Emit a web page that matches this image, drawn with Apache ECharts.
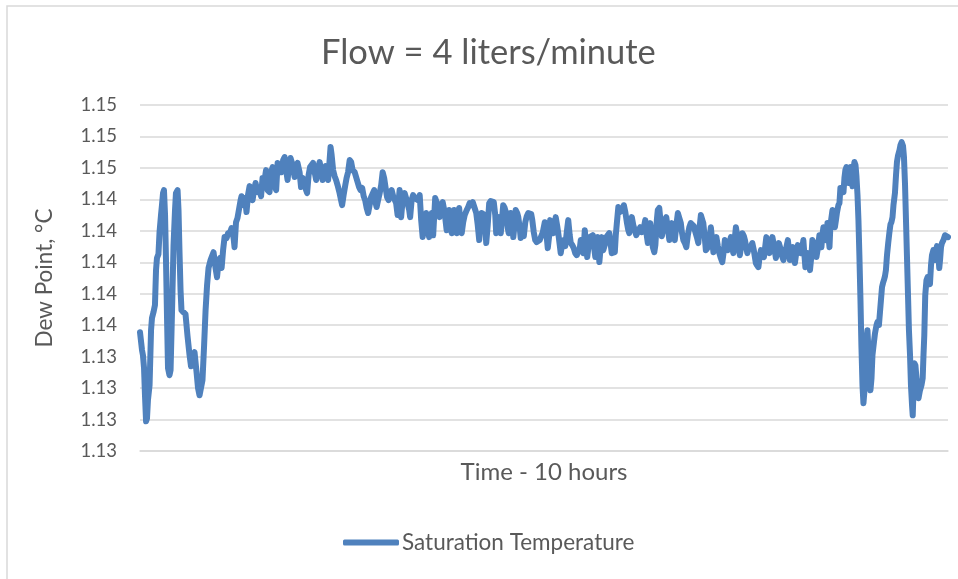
<!DOCTYPE html>
<html>
<head>
<meta charset="utf-8">
<title>Flow = 4 liters/minute</title>
<script src="https://cdn.jsdelivr.net/npm/echarts@6/dist/echarts.min.js"></script>
<style>
  html, body { margin: 0; padding: 0; background: #ffffff; }
  #chart { width: 958px; height: 579px; }
</style>
</head>
<body>
<div id="chart"></div>
<script>
// Elapsed time of each reading, minutes (10 hour run)
const timeMinutes = [
  0, 0.7, 1.5, 2.2, 3.0, 3.7, 4.5, 5.2, 5.9, 7.1, 8.2, 8.9, 10.0, 11.1, 11.9, 12.6, 13.7, 14.5, 15.6, 16.3,
  17.1, 17.8, 18.6, 19.3, 20.1, 20.8, 21.9, 22.7, 23.8, 24.9, 26.0, 26.7, 27.9, 28.6, 29.3, 30.1, 30.8, 32.3, 33.8, 35.3,
  36.8, 37.9, 39.0, 40.5, 42.0, 43.1, 44.2, 45.3, 46.4, 47.6, 48.7, 49.8, 50.9, 52.4, 53.5, 54.6, 56.1, 57.2, 58.3, 59.4,
  60.6, 61.7, 62.8, 64.3, 65.4, 66.9, 68.0, 69.5, 70.2, 71.3, 72.4, 73.6, 74.7, 75.4, 76.9, 78.0, 79.1, 80.2, 81.4, 82.5,
  83.6, 84.7, 85.8, 87.3, 88.8, 89.9, 91.0, 92.5, 93.6, 94.7, 96.2,
  97.3, 98.5, 99.9, 101.1, 102.2, 103.7, 105.1, 106.3, 107.4, 108.5, 109.6, 110.7, 111.8, 113.3, 114.8, 115.9, 117.0, 118.5, 119.6, 120.7,
  122.2, 123.3, 124.1, 125.2, 126.3, 127.4, 128.5, 129.7, 130.8, 131.9, 133.4, 134.5, 135.6, 136.7, 137.8, 138.9, 139.7, 140.8, 141.5, 142.3,
  143.4, 144.5, 145.6, 146.7, 148.2, 149.3, 150.1, 151.2, 152.3, 153.4, 154.5, 155.7, 156.8, 157.9, 159.4, 160.5, 161.6, 162.7, 163.8, 165.0,
  166.1, 167.2, 168.3, 169.4, 170.5, 171.6, 172.8, 173.9, 175.0, 175.7, 176.8, 178.0, 179.1, 180.2, 181.3, 182.4, 183.5, 184.6, 185.8, 186.9,
  188.0, 189.1, 190.2, 191.3, 192.1, 192.8,
  193.9, 195.0, 196.5, 197.6, 198.8, 199.9, 200.6, 201.7, 202.8, 204.0, 205.1, 206.2, 207.7, 208.8, 209.9, 211.0, 212.5, 213.6, 214.7, 215.8,
  216.6, 217.7, 219.2, 220.3, 221.4, 222.5, 223.7, 224.8, 225.9, 226.6, 227.7, 228.9, 229.6, 230.7, 231.5, 232.6, 233.3, 234.4, 235.2, 236.3,
  237.0, 238.1, 238.9, 240.0, 241.1, 242.6, 243.7, 244.8, 245.9, 247.1, 248.5, 249.7, 250.8, 251.9, 252.6, 253.7, 254.9, 256.0, 257.1, 258.2,
  259.3, 260.4, 261.5, 262.7, 263.8, 264.5, 265.6, 266.7, 267.9, 268.6, 269.7, 270.8, 271.9, 273.1, 273.8, 274.6, 275.3, 276.4, 277.2, 278.3,
  279.0, 280.1, 280.9, 282.0, 282.7, 283.8, 285.0, 286.1, 287.2, 288.3, 289.4,
  290.5, 291.3, 292.4, 293.5, 294.6, 295.7, 296.8, 298.0, 299.1, 300.6, 301.7, 302.8, 303.9, 304.6, 305.8, 306.9, 308.0, 308.7, 309.8, 310.6,
  311.7, 312.4, 313.6, 314.7, 315.8, 316.9, 318.0, 319.1, 319.9, 321.0, 322.1, 323.2, 324.3, 325.4, 326.6, 327.3, 328.4, 329.2, 330.3, 331.4,
  332.1, 333.2, 334.0, 335.1, 336.2, 337.3, 338.1, 339.2, 339.9, 341.1, 342.2, 342.9, 344.0, 345.1, 346.3, 347.4, 348.5, 349.6, 350.3, 351.5,
  352.6, 353.3, 354.1, 355.2, 356.3, 357.4, 358.5, 359.3, 360.4, 361.5, 362.6, 363.3, 364.5, 365.2, 366.3, 367.4, 368.5, 369.3, 370.4, 371.5,
  372.6, 373.4, 374.5, 375.2, 376.3, 377.1, 378.2, 378.9, 380.1, 380.8, 381.9, 382.7, 383.8, 384.5, 385.6,
  386.8, 387.5, 388.6, 389.7, 390.8, 391.9, 393.1, 393.8, 394.9, 396.0, 397.1, 398.3, 399.4, 400.5, 401.6, 402.4, 403.5, 404.6, 405.7, 406.8,
  407.9, 409.0, 410.2, 411.3, 412.0, 413.5, 414.6, 415.7, 416.5, 417.6, 418.3, 419.4, 420.2, 421.3, 422.0, 423.2, 423.9, 425.0, 425.8, 426.9,
  428.0, 429.1, 430.2, 431.3, 432.4, 433.6, 434.3, 435.4, 436.5, 437.6, 438.8, 439.5, 440.6, 441.7, 442.5, 443.6, 444.3, 445.4, 446.6, 447.3,
  448.4, 449.2, 450.3, 451.0, 452.1, 452.9, 454.0, 454.7, 455.8, 457.3, 458.1, 459.2, 460.3, 461.1, 462.2, 463.3, 464.4, 465.1, 466.3, 467.4,
  468.5, 469.6, 470.7, 472.2, 473.3, 474.4, 475.5,
  476.6, 477.8, 478.9, 480.0, 481.1, 481.9, 482.6, 483.7, 484.8, 485.6, 486.3, 487.4, 488.5, 489.7, 490.8, 491.9, 492.6, 493.4, 494.1, 494.9,
  496.0, 496.7, 497.5, 498.6, 499.3, 500.4, 501.2, 502.3, 503.4, 504.5, 505.3, 506.0, 506.7, 507.5, 508.6, 509.4, 510.5, 511.2, 512.0, 512.7,
  513.4, 514.2, 515.3, 516.0, 516.8, 517.5, 518.6, 519.4, 520.1, 521.2, 522.4, 523.1, 523.8, 524.6, 525.3, 526.1, 526.8, 527.6, 528.3, 529.0,
  529.8, 530.5, 531.3, 532.0, 532.8, 533.5, 534.2, 535.0, 535.7, 536.5, 537.2, 538.0, 538.7, 539.4, 540.2, 540.9, 541.7, 542.4, 543.2, 543.9,
  545.0, 545.8, 546.9, 547.6, 548.7, 549.5, 550.2, 551.0, 551.7, 552.4, 553.2, 553.9, 554.7, 555.6, 556.5, 557.3, 558.0, 558.8, 559.5, 560.6,
  561.4, 562.1, 562.8, 564.0, 564.7, 565.6, 566.6, 567.3, 568.1, 568.8, 569.5, 570.3, 571.0, 571.8, 572.5, 573.3, 573.8, 574.4, 575.0, 575.8,
  576.6, 577.3, 578.1, 579.2, 580.3, 581.2, 581.8, 582.4, 583.1, 584.0, 584.8, 585.5, 586.6, 587.4, 588.1, 589.1, 589.8, 590.3, 591.1, 591.8,
  592.9, 593.5, 594.1, 594.8, 595.5, 596.6, 597.8, 598.9, 600.0
];

// Saturation temperature (dew point) at each reading, °C
const dewPoint = [
  1.13555, 1.13549, 1.13441, 1.13409, 1.13327, 1.13154, 1.12989, 1.13008, 1.13123, 1.13218, 1.13568, 1.13645, 1.13682, 1.13727, 1.13950, 1.14027, 1.14052, 1.14191, 1.14300, 1.14363,
  1.14440, 1.14459, 1.14300, 1.14014, 1.13632, 1.13327, 1.13282, 1.13314, 1.13695, 1.14109, 1.14332, 1.14440, 1.14459, 1.14332, 1.14077, 1.13823, 1.13695, 1.13682, 1.13670, 1.13529,
  1.13409, 1.13339, 1.13409, 1.13428, 1.13301, 1.13199, 1.13154, 1.13148, 1.13250, 1.13472, 1.13695, 1.13854, 1.13963, 1.14014, 1.14039, 1.14064, 1.13963, 1.13905, 1.14001, 1.14027,
  1.13963, 1.14077, 1.14160, 1.14154, 1.14185, 1.14191, 1.14217, 1.14154, 1.14096, 1.14255, 1.14281, 1.14293, 1.14395, 1.14420, 1.14363, 1.14408, 1.14319, 1.14427, 1.14484, 1.14427,
  1.14395, 1.14459, 1.14504, 1.14446, 1.14472, 1.14420, 1.14536, 1.14523, 1.14586, 1.14459, 1.14446,
  1.14573, 1.14605, 1.14491, 1.14459, 1.14631, 1.14599, 1.14573, 1.14650, 1.14669, 1.14586, 1.14523, 1.14618, 1.14663, 1.14618, 1.14542, 1.14618, 1.14631, 1.14573, 1.14478, 1.14536,
  1.14523, 1.14459, 1.14440, 1.14554, 1.14605, 1.14618, 1.14631, 1.14573, 1.14523, 1.14586, 1.14637, 1.14586, 1.14523, 1.14586, 1.14611, 1.14554, 1.14523, 1.14650, 1.14733, 1.14682,
  1.14586, 1.14548, 1.14523, 1.14491, 1.14440, 1.14395, 1.14363, 1.14427, 1.14484, 1.14536, 1.14573, 1.14650, 1.14637, 1.14586, 1.14573, 1.14561, 1.14510, 1.14478, 1.14459, 1.14472,
  1.14420, 1.14395, 1.14345, 1.14313, 1.14363, 1.14414, 1.14408, 1.14459, 1.14376, 1.14351, 1.14395, 1.14440, 1.14491, 1.14573, 1.14536, 1.14472, 1.14414, 1.14395, 1.14446, 1.14459,
  1.14420, 1.14414, 1.14376, 1.14300, 1.14395, 1.14459,
  1.14287, 1.14395, 1.14440, 1.14408, 1.14414, 1.14332, 1.14287, 1.14395, 1.14427, 1.14408, 1.14414, 1.14395, 1.14427, 1.14268, 1.14160, 1.14217, 1.14313, 1.14236, 1.14160, 1.14268,
  1.14313, 1.14172, 1.14408, 1.14382, 1.14351, 1.14287, 1.14363, 1.14382, 1.14332, 1.14287, 1.14204, 1.14255, 1.14332, 1.14236, 1.14185, 1.14300, 1.14332, 1.14236, 1.14185, 1.14300,
  1.14345, 1.14236, 1.14185, 1.14255, 1.14300, 1.14332, 1.14351, 1.14376, 1.14363, 1.14382, 1.14345, 1.14313, 1.14236, 1.14141, 1.14217, 1.14313, 1.14319, 1.14300, 1.14122, 1.14236,
  1.14376, 1.14389, 1.14395, 1.14382, 1.14300, 1.14185, 1.14217, 1.14287, 1.14185, 1.14255, 1.14363, 1.14345, 1.14313, 1.14217, 1.14185, 1.14281, 1.14313, 1.14236, 1.14160, 1.14255,
  1.14332, 1.14313, 1.14287, 1.14217, 1.14154, 1.14204, 1.14166, 1.14255, 1.14293, 1.14313, 1.14319,
  1.14306, 1.14268, 1.14191, 1.14141, 1.14128, 1.14122, 1.14141, 1.14141, 1.14191, 1.14255, 1.14191, 1.14090, 1.14172, 1.14268, 1.14217, 1.14185, 1.14236, 1.14287, 1.14230, 1.14185,
  1.14109, 1.14058, 1.14122, 1.14141, 1.14103, 1.14191, 1.14268, 1.14172, 1.14122, 1.14109, 1.14090, 1.14058, 1.14045, 1.14033, 1.14090, 1.14141, 1.14077, 1.14058, 1.14204, 1.14090,
  1.14033, 1.14109, 1.14160, 1.14166, 1.14172, 1.14090, 1.14033, 1.14141, 1.14160, 1.14001, 1.14109, 1.14160, 1.14077, 1.14109, 1.14160, 1.14172, 1.14185, 1.14109, 1.14058, 1.14064,
  1.14064, 1.14172, 1.14249, 1.14351, 1.14319, 1.14313, 1.14332, 1.14363, 1.14319, 1.14255, 1.14204, 1.14185, 1.14255, 1.14287, 1.14236, 1.14204, 1.14172, 1.14160, 1.14204, 1.14223,
  1.14191, 1.14185, 1.14236, 1.14268, 1.14172, 1.14122, 1.14204, 1.14249, 1.14172, 1.14096, 1.14064, 1.14109, 1.14268, 1.14332, 1.14345,
  1.14236, 1.14166, 1.14217, 1.14268, 1.14287, 1.14217, 1.14141, 1.14191, 1.14249, 1.14191, 1.14141, 1.14236, 1.14313, 1.14281, 1.14249, 1.14191, 1.14141, 1.14122, 1.14096, 1.14172,
  1.14223, 1.14249, 1.14255, 1.14230, 1.14204, 1.14160, 1.14122, 1.14236, 1.14300, 1.14268, 1.14249, 1.14154, 1.14077, 1.14090, 1.14096, 1.14172, 1.14223, 1.14128, 1.14064, 1.14122,
  1.14160, 1.14103, 1.14058, 1.14027, 1.14001, 1.14077, 1.14141, 1.14109, 1.14077, 1.14122, 1.14160, 1.14109, 1.14058, 1.14154, 1.14223, 1.14160, 1.14122, 1.14045, 1.14109, 1.14185,
  1.14166, 1.14141, 1.14090, 1.14058, 1.14090, 1.14096, 1.14109, 1.14122, 1.14077, 1.13995, 1.13982, 1.13969, 1.14045, 1.14077, 1.14058, 1.14033, 1.14109, 1.14160, 1.14109, 1.14058,
  1.14109, 1.14160, 1.14109, 1.14027, 1.14077, 1.14122, 1.14090,
  1.14045, 1.14014, 1.14064, 1.14096, 1.14141, 1.14077, 1.14014, 1.14064, 1.14096, 1.14045, 1.13995, 1.14064, 1.14109, 1.14090, 1.14058, 1.14096, 1.14141, 1.14045, 1.13969, 1.14014,
  1.14058, 1.14001, 1.13950, 1.14045, 1.14141, 1.14122, 1.14096, 1.14033, 1.14090, 1.14172, 1.14141, 1.14096, 1.14172, 1.14223, 1.14172, 1.14141, 1.14249, 1.14172, 1.14096, 1.14236,
  1.14281, 1.14332, 1.14281, 1.14223, 1.14268, 1.14313, 1.14363, 1.14376, 1.14472, 1.14459, 1.14446, 1.14536, 1.14586, 1.14605, 1.14548, 1.14504, 1.14586, 1.14605, 1.14536, 1.14484,
  1.14586, 1.14637, 1.14618, 1.14548, 1.14427, 1.14268, 1.14045, 1.13759, 1.13472, 1.13218, 1.13104, 1.13186, 1.13314, 1.13504, 1.13568, 1.13441, 1.13314, 1.13186, 1.13263, 1.13409,
  1.13492, 1.13549, 1.13600, 1.13619, 1.13600, 1.13593, 1.13759, 1.13842, 1.13867, 1.13886, 1.13912, 1.13950, 1.14045, 1.14122, 1.14191, 1.14242, 1.14255, 1.14287, 1.14363, 1.14440,
  1.14554, 1.14637, 1.14675, 1.14714, 1.14745, 1.14764, 1.14739, 1.14669, 1.14491, 1.14268, 1.14045, 1.13791, 1.13568, 1.13409, 1.13218, 1.13091, 1.13027, 1.13186, 1.13358, 1.13345,
  1.13263, 1.13154, 1.13136, 1.13186, 1.13218, 1.13263, 1.13409, 1.13536, 1.13791, 1.13886, 1.13905, 1.13874, 1.13861, 1.13982, 1.14045, 1.14077, 1.14039, 1.14014, 1.14077, 1.14103,
  1.14045, 1.13963, 1.14014, 1.14096, 1.14122, 1.14141, 1.14172, 1.14166, 1.14160
];

// Dew point axis: 1.128 … 1.150 in steps of 0.002, shown to two decimals
const yMin = 1.128;
const yMax = 1.150;
const yStep = 0.002;

const seriesName = 'Saturation Temperature';
const chartTitle = 'Flow = 4 liters/minute';
const xTitle = 'Time - 10 hours';
const yTitle = 'Dew Point, °C';

const points = timeMinutes.map((t, i) => [t, dewPoint[i]]);

const FONT = 'Lato, "Open Sans", sans-serif';
const TEXT = '#595959';
const GRID = '#D9D9D9';
const BLUE = '#4F81BD';

const chart = echarts.init(document.getElementById('chart'), null, { renderer: 'canvas' });

chart.setOption({
  animation: false,
  backgroundColor: '#ffffff',
  textStyle: { fontFamily: FONT },
  graphic: [{
    type: 'rect',
    shape: { x: 7, y: 6, width: 1000, height: 700 },
    style: { fill: 'none', stroke: GRID, lineWidth: 1.5 },
    silent: true,
    z: -10
  }],
  title: {
    text: chartTitle,
    left: 321,
    top: 35,
    padding: 0,
    textStyle: { fontFamily: FONT, fontSize: 34.5, fontWeight: 'normal', color: TEXT }
  },
  legend: {
    bottom: 20,
    left: 338,
    icon: 'roundRect',
    itemWidth: 56,
    itemHeight: 6,
    itemGap: 10,
    textStyle: { fontFamily: FONT, fontSize: 22.5, color: TEXT, padding: [0, 0, 0, -2] },
    data: [seriesName]
  },
  grid: { left: 140, right: 10, top: 105, bottom: 128, containLabel: false },
  xAxis: {
    type: 'value',
    min: 0,
    max: 600,
    name: xTitle,
    nameLocation: 'middle',
    nameGap: 9,
    nameTextStyle: { fontFamily: FONT, fontSize: 24, color: TEXT, verticalAlign: 'top' },
    axisLine: { show: true, lineStyle: { color: GRID, width: 1.5 } },
    axisTick: { show: false },
    axisLabel: { show: false },
    splitLine: { show: false }
  },
  yAxis: {
    type: 'value',
    min: yMin,
    max: yMax,
    interval: yStep,
    name: yTitle,
    nameLocation: 'middle',
    nameRotate: 90,
    nameGap: 84,
    nameTextStyle: { fontFamily: FONT, fontSize: 22.5, color: TEXT },
    axisLine: { show: false },
    axisTick: { show: false },
    axisLabel: {
      margin: 23,
      fontFamily: FONT,
      fontSize: 18.5,
      color: TEXT,
      formatter: v => v.toFixed(2)
    },
    splitLine: { show: true, lineStyle: { color: GRID, width: 1.5 } }
  },
  series: [{
    name: seriesName,
    type: 'line',
    data: points,
    showSymbol: false,
    symbol: 'none',
    smooth: false,
    clip: true,
    lineStyle: { color: BLUE, width: 6, cap: 'round', join: 'round' },
    itemStyle: { color: BLUE }
  }]
});
</script>
</body>
</html>
